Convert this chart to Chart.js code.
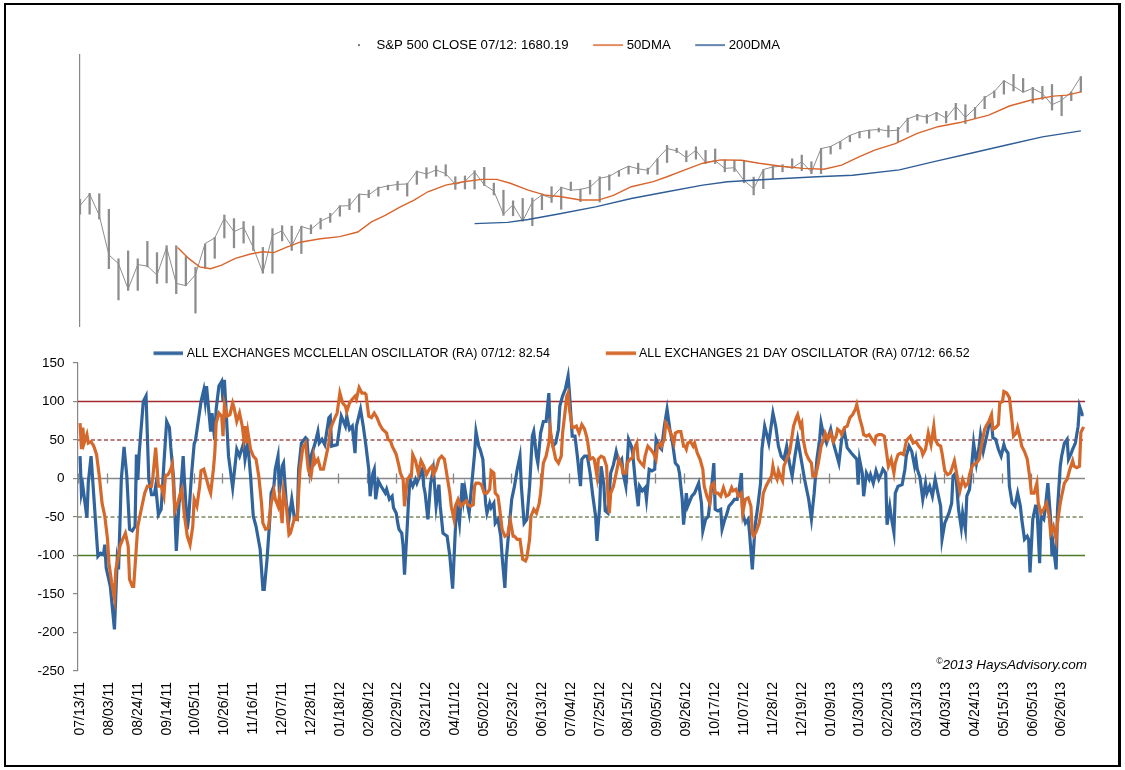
<!DOCTYPE html>
<html>
<head>
<meta charset="utf-8">
<script src="https://cdn.jsdelivr.net/npm/chart.js@4.4.0/dist/chart.umd.min.js"></script>
<style>
html,body{margin:0;padding:0;background:#fff;}
body{width:1125px;height:770px;position:relative;overflow:hidden;font-family:"Liberation Sans",Arial,sans-serif;}
#frame{position:absolute;left:4px;top:3px;width:1117px;height:764px;box-sizing:border-box;border-left:2px solid #000;border-top:2px solid #000;border-bottom:2px solid #000;border-right:3px solid #000;}
#topWrap{position:absolute;left:0;top:17px;width:1125px;height:310px;}
#botWrap{position:absolute;left:0;top:294px;width:1125px;height:476px;}
#copy{position:absolute;right:38px;top:656px;font-style:italic;font-size:13.5px;color:#000;white-space:nowrap;}
#copy span{font-size:8.5px;vertical-align:5px;}
</style>
</head>
<body>
<div id="frame"></div>
<div id="topWrap"><canvas id="topChart" width="1125" height="310"></canvas></div>
<div id="botWrap"><canvas id="botChart" width="1125" height="476"></canvas></div>
<div id="copy"><span>&copy;</span>2013 HaysAdvisory.com</div>
<script>
// ---------- DATA ----------
// x values are calendar days counted from 07/13/11 (day 0); 07/12/13 = day 730
const weekDay = [0,7,14,21,28,35,42,49,56,63,70,77,84,91,98,105,112,119,126,133,140,147,154,161,168,175,182,189,196,203,210,217,224,231,238,245,252,259,266,273,280,287,294,301,308,315,322,329,336,343,350,357,364,371,378,385,392,399,406,413,420,427,434,441,448,455,462,469,476,483,490,497,504,511,518,525,532,539,546,553,560,567,574,581,588,595,602,609,616,623,630,637,644,651,658,665,672,679,686,693,700,707,714,721,728];
const spxLow = [1295,1295,1283,1168,1101,1121,1121,1172,1136,1137,1114,1131,1074,1169,1191,1238,1215,1226,1209,1158,1158,1231,1209,1202,1248,
1259,1275,1290,1306,1300,1336,1340,1356,1355,1340,1370,1386,1391,1392,1357,1358,1358,1367,1343,1292,1291,1278,1267,1306,1324,1307,1354,1326,1345,1325,1355,1391,1397,1398,1397,1396,1428,1455,1430,1437,1425,1425,1403,1404,1374,1343,1359,1385,1403,1412,1406,1398,
1398,1451,1465,1485,1496,1495,1513,1498,1485,1512,1547,1538,1546,1539,1548,1537,1553,1581,1614,1625,1635,1631,1598,1609,1577,1560,1605,1631];
const spxHigh = [1332,1347,1346,1307,1190,1208,1190,1230,1204,1220,1220,1195,1171,1224,1239,1293,1284,1277,1266,1216,1260,1267,1266,1266,1269,
1285,1297,1316,1333,1345,1355,1363,1368,1378,1373,1405,1414,1419,1422,1390,1392,1406,1415,1373,1355,1328,1334,1335,1345,1364,1363,1376,1358,1381,1390,1395,1406,1418,1426,1413,1438,1475,1467,1460,1471,1461,1465,1435,1434,1434,1389,1409,1419,1422,1438,1448,1430,
1467,1472,1486,1503,1514,1518,1524,1531,1526,1553,1564,1563,1570,1573,1597,1593,1585,1618,1635,1667,1687,1674,1646,1649,1655,1620,1632,1680];
const spxClose = [1316,1345,1292,1199,1179,1124,1177,1174,1154,1216,1136,1131,1155,1225,1238,1285,1253,1263,1216,1159,1244,1255,1219,1265,1258,
1278,1289,1315,1316,1345,1343,1361,1366,1370,1371,1404,1397,1408,1398,1370,1378,1403,1369,1353,1295,1318,1278,1325,1343,1335,1362,1355,1357,1363,1386,1391,1406,1418,1411,1407,1438,1466,1460,1441,1461,1428,1433,1412,1414,1380,1359,1409,1416,1418,1413,1430,1402,
1466,1472,1486,1503,1513,1518,1520,1516,1518,1551,1561,1556,1569,1553,1588,1555,1582,1614,1633,1667,1650,1631,1643,1627,1593,1606,1632,1680];

const dma50 = [[71,1216],[79,1191],[87,1172],[95,1168],[103,1176],[113,1191],[124,1201],[133,1206],[141,1204],[150,1216],[160,1228],[175,1236],[189,1241],[202,1252],[212,1276],[222,1292],[233,1313],[243,1330],[253,1351],[266,1368],[279,1377],[292,1383],[303,1383],[313,1373],[326,1355],[339,1342],[349,1339],[364,1330],[377,1330],[388,1342],[401,1364],[417,1377],[427,1390],[440,1408],[453,1426],[466,1435],[481,1434],[494,1426],[510,1418],[526,1412],[541,1410],[554,1421],[567,1444],[578,1462],[593,1480],[609,1509],[624,1528],[640,1540],[661,1562],[676,1589],[692,1607],[708,1619],[718,1622],[728,1632]];
const dma200 = [[287,1272],[311,1275],[326,1282],[349,1296],[375,1313],[401,1334],[427,1351],[453,1368],[471,1377],[505,1384],[536,1390],[562,1394],[596,1408],[622,1431],[648,1453],[674,1476],[700,1499],[728,1516]];

const mcoPts = [[0,29],[1,-19],[2,-10],[5,-51],[6,-5],[8,29],[13,-101],[15,-97],[17,-99],[18,-86],[19,-116],[22,-140],[25,-196],[27,-107],[28,-118],[30,-1],[32,41],[34,3],[36,-66],[38,-68],[40,-62],[41,31],[42,-2],[43,33],[46,100],[48,107],[50,-1],[52,-21],[54,-21],[55,-10],[57,-47],[59,-40],[61,20],[63,74],[65,66],[66,40],[68,1],[70,-94],[72,-32],[73,-21],[75,29],[76,-5],[78,-66],[79,-51],[81,3],[83,45],[84,50],[88,100],[90,115],[91,100],[92,120],[95,61],[96,85],[98,50],[99,90],[101,120],[103,126],[104,100],[105,128],[108,29],[111,-12],[114,38],[116,29],[119,46],[120,25],[122,46],[124,3],[126,-49],[128,-62],[131,-92],[133,-144],[134,-144],[136,-105],[138,-53],[139,-19],[141,-10],[142,12],[144,29],[145,-19],[147,16],[148,20],[150,-32],[152,-53],[154,-27],[155,-40],[156,-53],[158,-53],[159,12],[161,46],[164,53],[165,51],[167,3],[168,29],[171,46],[173,61],[174,46],[176,51],[178,44],[181,79],[182,81],[183,42],[187,44],[190,81],[193,68],[194,81],[196,64],[198,68],[200,33],[201,68],[204,90],[206,68],[208,42],[210,12],[211,-23],[213,7],[214,12],[215,-27],[217,-3],[219,-10],[222,-19],[223,-14],[225,-27],[227,-23],[228,-38],[230,-45],[231,-57],[232,-66],[234,-71],[235,-88],[236,-125],[238,-62],[239,-27],[240,-1],[242,-10],[244,-1],[245,-6],[247,3],[249,12],[250,-10],[251,-19],[253,-53],[255,-6],[257,12],[259,-36],[261,-8],[262,-36],[264,-71],[267,-75],[269,-101],[271,-143],[273,-66],[274,-32],[276,-58],[278,-6],[279,-27],[280,-14],[282,-36],[283,-45],[285,-6],[287,33],[288,61],[290,42],[291,38],[293,25],[295,-32],[296,-45],[298,-32],[299,-38],[301,-32],[302,-58],[304,-53],[306,-75],[307,-101],[309,-142],[310,-105],[312,-66],[314,-27],[316,-10],[318,12],[320,29],[321,-10],[323,-58],[325,-53],[327,-10],[329,55],[330,61],[332,29],[333,20],[335,59],[337,74],[339,74],[341,111],[342,59],[344,42],[346,46],[348,64],[349,94],[351,107],[353,116],[355,133],[356,111],[358,55],[360,55],[362,25],[364,-10],[365,25],[367,29],[369,29],[371,7],[373,-23],[375,-49],[376,-81],[378,-36],[379,16],[381,-8],[382,-42],[384,-45],[386,7],[388,18],[390,35],[392,20],[394,25],[395,7],[397,-10],[399,51],[401,42],[402,33],[404,-6],[406,-36],[407,-10],[409,-16],[411,-12],[412,-27],[414,12],[416,10],[418,12],[419,51],[421,42],[423,38],[425,68],[427,90],[429,64],[431,46],[433,20],[435,16],[436,7],[438,-27],[439,-60],[441,-19],[442,-36],[445,-23],[447,-19],[450,-6],[452,-32],[453,-68],[455,-53],[457,-49],[459,-19],[461,20],[462,-40],[464,-42],[466,-40],[467,-66],[469,-53],[470,-49],[472,-36],[474,-32],[476,-27],[478,-27],[479,-19],[481,7],[482,-45],[484,-58],[486,-53],[487,-71],[489,-118],[491,-62],[493,-36],[495,-6],[496,38],[498,68],[499,61],[501,46],[504,85],[506,68],[508,42],[510,29],[512,25],[514,42],[516,20],[518,3],[520,29],[522,51],[525,20],[527,-1],[530,-27],[532,-53],[534,-19],[536,25],[538,51],[539,72],[541,55],[543,46],[546,64],[548,46],[550,33],[552,20],[554,51],[556,61],[558,40],[561,33],[563,29],[565,25],[566,-8],[567,25],[569,7],[570,-23],[572,7],[574,-1],[575,5],[577,-6],[579,10],[581,-1],[583,7],[584,12],[586,7],[587,-60],[589,-36],[590,-49],[592,-70],[593,-19],[595,-10],[598,-8],[600,12],[601,29],[603,42],[605,35],[607,16],[608,25],[609,12],[611,1],[613,-27],[615,-6],[616,-19],[618,-10],[620,-23],[622,-1],[624,-19],[626,-36],[627,-79],[629,-58],[632,-45],[634,-32],[635,3],[637,7],[639,-40],[641,-64],[642,-45],[644,-66],[645,-23],[647,-14],[649,25],[650,46],[652,20],[654,42],[655,57],[657,35],[659,51],[661,68],[663,72],[664,53],[666,51],[668,38],[670,29],[672,44],[673,38],[675,33],[676,-10],[678,-32],[680,-36],[682,-19],[684,-36],[685,-53],[687,-79],[689,-75],[690,-79],[691,-122],[693,-53],[695,-36],[696,-36],[698,-110],[699,-49],[701,-53],[702,-40],[704,-6],[706,-53],[707,-101],[708,-88],[710,-118],[711,-40],[713,16],[714,29],[716,46],[718,51],[719,25],[721,33],[722,38],[724,46],[726,68],[727,94],[729,83],[730,83]];

const osc21Pts = [[0,72],[1,38],[2,66],[3,46],[5,57],[6,46],[8,48],[10,42],[12,31],[14,3],[16,-32],[18,-49],[20,-79],[21,-110],[23,-135],[25,-155],[26,-118],[27,-110],[29,-88],[31,-79],[33,-71],[35,-88],[36,-131],[38,-140],[39,-140],[41,-88],[42,-62],[45,-36],[47,-19],[49,-10],[50,-10],[52,-10],[53,3],[55,40],[57,-10],[59,-10],[61,-23],[62,3],[64,5],[66,12],[67,18],[69,-42],[71,-32],[73,-19],[74,-14],[76,-49],[78,-75],[80,-86],[82,-62],[83,-27],[85,-36],[87,-10],[88,10],[90,12],[92,-1],[94,-14],[95,-19],[97,12],[98,33],[99,72],[101,85],[103,81],[104,55],[105,96],[107,81],[109,83],[111,98],[112,92],[114,74],[116,85],[118,68],[119,53],[120,68],[121,46],[122,61],[124,38],[126,29],[128,25],[130,3],[132,-32],[133,-58],[135,-66],[137,-64],[139,-32],[141,-16],[142,-27],[144,-36],[145,-23],[147,-58],[148,-16],[150,-36],[152,-73],[153,-71],[155,-58],[156,-51],[158,-53],[159,-19],[160,12],[162,40],[164,46],[166,12],[168,3],[170,29],[171,20],[173,25],[175,12],[177,12],[179,29],[181,46],[182,64],[185,77],[187,85],[189,111],[191,98],[193,94],[194,87],[196,98],[198,103],[200,107],[201,103],[203,118],[205,111],[207,111],[208,109],[210,81],[212,79],[214,85],[216,79],[218,70],[220,64],[223,59],[224,51],[226,48],[227,42],[229,35],[230,31],[232,16],[233,7],[235,-1],[236,-36],[238,-1],[240,3],[241,3],[242,31],[244,23],[246,7],[248,23],[250,16],[252,5],[254,12],[256,16],[257,5],[259,12],[261,25],[263,29],[265,25],[267,3],[269,-19],[270,-36],[272,-53],[273,-36],[275,-27],[277,-36],[279,-32],[281,-29],[282,-34],[284,-36],[286,-34],[287,-10],[288,-6],[290,-6],[292,-8],[294,-19],[296,-19],[298,-14],[299,10],[301,7],[302,-19],[304,-23],[305,-36],[307,-66],[309,-75],[311,-73],[313,-55],[315,-75],[316,-75],[318,-79],[320,-79],[322,-105],[324,-107],[325,-103],[327,-79],[328,-49],[330,-40],[332,-45],[334,-32],[335,-19],[337,20],[339,29],[341,46],[342,64],[343,51],[344,42],[346,25],[348,20],[350,29],[351,59],[353,90],[354,107],[355,111],[356,90],[358,66],[359,66],[361,68],[363,59],[365,70],[367,64],[369,51],[371,25],[373,27],[374,25],[376,3],[377,25],[379,29],[381,27],[383,16],[384,-23],[385,-45],[386,-19],[388,-10],[390,7],[392,25],[394,16],[395,7],[397,7],[398,20],[400,25],[402,27],[403,38],[405,46],[406,25],[408,20],[410,16],[411,29],[413,42],[415,38],[417,33],[419,25],[420,42],[422,46],[423,42],[425,51],[426,72],[428,66],[430,57],[432,46],[433,59],[435,61],[437,61],[439,42],[440,42],[441,38],[442,46],[444,48],[446,42],[447,46],[449,33],[451,25],[453,12],[454,-10],[456,-23],[458,-32],[459,-10],[461,-6],[462,-19],[464,-19],[466,-23],[468,-12],[470,-23],[472,-21],[474,-12],[475,-16],[477,-14],[479,-23],[481,-19],[482,-45],[484,-27],[486,-25],[488,-36],[489,-71],[490,-75],[492,-68],[494,-58],[496,-36],[497,-19],[499,-10],[501,-3],[503,3],[504,16],[505,7],[507,-1],[508,10],[509,5],[511,-3],[512,16],[514,25],[516,33],[517,44],[519,68],[521,79],[522,83],[524,68],[525,72],[526,51],[528,33],[530,25],[532,20],[533,3],[535,3],[537,20],[539,42],[541,51],[542,59],[544,51],[546,59],[548,48],[550,55],[551,64],[553,61],[554,57],[556,66],[558,68],[560,79],[562,83],[564,90],[565,96],[567,79],[569,66],[570,57],[572,55],[574,57],[576,51],[578,46],[579,55],[581,57],[583,57],[585,55],[587,29],[588,16],[590,25],[592,7],[593,20],[595,31],[597,33],[599,31],[601,48],[602,51],[604,55],[606,46],[608,48],[610,42],[612,38],[613,31],[615,38],[617,59],[619,44],[621,68],[622,51],[624,44],[626,42],[627,33],[629,10],[631,5],[633,7],[634,12],[636,23],[638,3],[640,-16],[642,-1],[644,-10],[646,-6],[647,5],[649,16],[650,18],[652,20],[654,25],[656,46],[658,64],[659,68],[661,74],[663,83],[664,64],[666,66],[668,70],[669,98],[671,100],[672,113],[674,111],[676,105],[677,90],[679,55],[681,59],[682,66],[684,51],[685,42],[687,35],[689,25],[691,-1],[692,-19],[694,-19],[696,-6],[697,-32],[699,-45],[701,-40],[703,-32],[705,-49],[706,-71],[708,-62],[710,-79],[711,-58],[713,-32],[714,-23],[716,-6],[718,-1],[720,12],[722,23],[723,16],[725,14],[727,16],[728,60],[730,67]];

const refLevels = [100, 50, -50, -100];
const topLegendText = ['S&P 500 CLOSE 07/12: 1680.19', '50DMA', '200DMA'];
const botLegendText = ['ALL EXCHANGES MCCLELLAN OSCILLATOR (RA) 07/12: 82.54', 'ALL EXCHANGES 21 DAY OSCILLATOR (RA) 07/12: 66.52'];
const oscTicks = {min: -250, max: 150, step: 50};
const dayStep = 21;

// ---------- STYLE ----------
const C = {
  spx: '#8d8d8d', d50: '#d8652c', d200: '#2f5d96',
  mco: '#31649c', o21: '#d5692b',
  ref: ['#a4292b', '#a5504f', '#7c8b5e', '#4d7a2a'],
  refDash: [[], [4, 2.5], [4, 2.5], []],
  axis: '#878787'
};
Chart.defaults.font.family = "'Liberation Sans', Arial, sans-serif";
Chart.defaults.color = '#000';

function fmtDay(d) {
  const dt = new Date(2011, 6, 13 + d);
  const p = n => String(n).padStart(2, '0');
  return p(dt.getMonth() + 1) + '/' + p(dt.getDate()) + '/' + p(dt.getFullYear() % 100);
}
function lineIcon(color, w) {
  const c = document.createElement('canvas'); c.width = 36; c.height = 6;
  const g = c.getContext('2d'); g.strokeStyle = color; g.lineWidth = w;
  g.beginPath(); g.moveTo(6, 3); g.lineTo(36, 3); g.stroke(); return c;
}
function dotIcon(color) {
  const c = document.createElement('canvas'); c.width = 36; c.height = 6;
  const g = c.getContext('2d'); g.fillStyle = color; g.fillRect(21, 2, 2, 2); return c;
}
function fixedLegend(h) {
  return { id: 'fixedLegend', beforeInit(chart) {
    const lg = chart.legend; const fit = lg.fit;
    lg.fit = function () { fit.call(this); this.height = h; };
  } };
}
const toXY = pts => pts.map(p => ({x: p[0], y: p[1]}));
const noEvents = {events: [], animation: false, responsive: false};

// ---------- TOP CHART ----------
const topIcons = [dotIcon('#777'), lineIcon(C.d50, 1.5), lineIcon(C.d200, 1.5)];
new Chart(document.getElementById('topChart'), {
  data: {
    datasets: [
      {type: 'bar', label: topLegendText[0], data: weekDay.map((d, i) => ({x: d, y: [spxLow[i], spxHigh[i]]})),
       backgroundColor: C.spx, barThickness: 1.6, order: 4},
      {type: 'line', label: 'close', data: weekDay.map((d, i) => ({x: d, y: spxClose[i]})),
       borderColor: C.spx, borderWidth: 1, pointRadius: 0, order: 3},
      {type: 'line', label: topLegendText[1], data: toXY(dma50), borderColor: C.d50, borderWidth: 1.4, pointRadius: 0, order: 2},
      {type: 'line', label: topLegendText[2], data: toXY(dma200), borderColor: C.d200, borderWidth: 1.4, pointRadius: 0, order: 1}
    ]
  },
  options: Object.assign({}, noEvents, {
    layout: {padding: {left: 35, right: 40, top: 0, bottom: 0}},
    scales: {
      x: {type: 'linear', min: 0, max: 731, offset: false, display: false},
      y: {type: 'logarithmic', min: 1046, max: 1750,
          ticks: {display: false}, grid: {display: false, drawTicks: false},
          border: {display: true, color: C.axis, width: 1.2},
          afterFit(s) { s.width = 45; }}
    },
    plugins: {
      tooltip: {enabled: false},
      legend: {position: 'top', align: 'center',
        labels: {usePointStyle: true, pointStyleWidth: 30, padding: 21.5, font: {size: 13.2},
          generateLabels: () => topLegendText.map((t, i) => ({text: t, pointStyle: topIcons[i], fillStyle: 'transparent',
            strokeStyle: 'transparent', lineWidth: 1, hidden: false, datasetIndex: i === 0 ? 0 : i + 1, fontColor: '#000'}))}}
    }
  }),
  plugins: [fixedLegend(38)]
});

// ---------- BOTTOM CHART ----------
const zeroAxis = {
  id: 'zeroAxis',
  beforeDatasetsDraw(chart) {
    const {ctx, scales: {x, y}} = chart;
    const y0 = y.getPixelForValue(0);
    ctx.save(); ctx.strokeStyle = C.axis; ctx.lineWidth = 1.3; ctx.beginPath();
    ctx.moveTo(x.left, y0); ctx.lineTo(x.right, y0);
    x.ticks.forEach(t => { const px = Math.round(x.getPixelForValue(t.value)) - 1.5; ctx.moveTo(px, y0 - 5); ctx.lineTo(px, y0 + 5); });
    ctx.stroke(); ctx.restore();
  }
};
const xMinB = -1.5, xMax = 731;
const refSets = refLevels.map((lv, i) => ({type: 'line', label: 'ref' + lv, data: [{x: xMinB, y: lv}, {x: xMax, y: lv}],
  borderColor: C.ref[i], borderWidth: 1.6, borderDash: C.refDash[i], pointRadius: 0, order: 10}));
const botIcons = [lineIcon(C.mco, 3.5), lineIcon(C.o21, 3.5)];
new Chart(document.getElementById('botChart'), {
  type: 'line',
  data: {
    datasets: [
      {label: botLegendText[0], data: toXY(mcoPts), borderColor: C.mco, borderWidth: 3.2, pointRadius: 0, tension: 0, order: 2},
      {label: botLegendText[1], data: toXY(osc21Pts), borderColor: C.o21, borderWidth: 3.2, pointRadius: 0, tension: 0, order: 1}
    ].concat(refSets)
  },
  options: Object.assign({}, noEvents, {
    layout: {padding: {left: 35, right: 40, top: 0, bottom: 0}},
    scales: {
      x: {type: 'linear', min: xMinB, max: xMax,
          grid: {display: false, drawTicks: false}, border: {display: false},
          ticks: {stepSize: dayStep, includeBounds: false, autoSkip: false, maxTicksLimit: 100, minRotation: 90, maxRotation: 90,
                  padding: 11, font: {size: 14}, color: '#000', callback: v => fmtDay(v)},
          afterFit(s) { s.height = 99; }},
      y: {type: 'linear', min: oscTicks.min, max: oscTicks.max,
          ticks: {stepSize: oscTicks.step, padding: 8.5, font: {size: 13.5}, color: '#000'},
          grid: {display: true, drawOnChartArea: false, drawTicks: true, tickLength: 5, color: C.axis, lineWidth: 1.2},
          border: {display: true, color: C.axis, width: 1.2},
          afterFit(s) { s.width = 43; }}
    },
    plugins: {
      tooltip: {enabled: false},
      legend: {position: 'top', align: 'center',
        labels: {usePointStyle: true, pointStyleWidth: 30, padding: 53, font: {size: 12.4},
          generateLabels: () => botLegendText.map((t, i) => ({text: t, pointStyle: botIcons[i], fillStyle: 'transparent',
            strokeStyle: 'transparent', lineWidth: 1, hidden: false, datasetIndex: i, fontColor: '#000'}))}}
    }
  }),
  plugins: [fixedLegend(69), zeroAxis]
});
</script>
</body>
</html>
